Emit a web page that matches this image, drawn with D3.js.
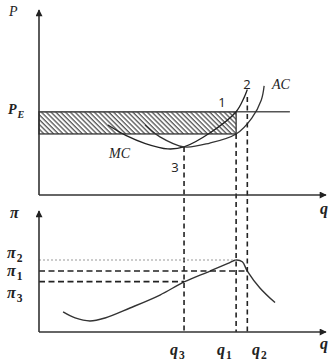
<!DOCTYPE html>
<html>
<head>
<meta charset="utf-8">
<script src="https://cdn.jsdelivr.net/npm/d3@7"></script>
<style>
  body { margin: 0; background: #fff; }
  .lab { font-family: "Liberation Serif", serif; font-style: italic; fill: #222; }
  .num { font-family: "Open Sans", "DejaVu Sans", sans-serif; fill: #222; }
</style>
</head>
<body>
<div id="chart"></div>
<script>
// quantities on the q axis
const qLabels = ["q3", "q1", "q2"];
const qValues = [51.8, 70.4, 74.4];

// price level and average cost at q1 (bounds of hatched area)
const priceE = 45;
const acAtQ1 = 33;
const acMin = 26;

// marginal cost curve [q, P]
const mcCurve = [[24.6, 37.8], [31, 32.2], [38, 27.8], [46, 24.9], [51.8, 26], [61, 33.5], [70.4, 45], [73.2, 52.5], [74.4, 57]];
// average cost curve [q, P]
const acCurve = [[37.9, 37.8], [43.2, 31.4], [51.8, 26], [61, 28.1], [70.4, 33], [76, 41.6], [79.4, 51.4], [80.4, 59]];

// profit levels
const piLabels = ["π2", "π1", "π3"];
const piValues = [60, 50.8, 42];
// profit curve [q, π]
const profitCurve = [[8.6, 16.7], [12.9, 11.7], [18.2, 9.2], [23.6, 11.7], [32.5, 20], [43.2, 30.8], [51.8, 41.7], [61.1, 50.8], [67.5, 57.2], [70.4, 60], [72.6, 58.5], [74.4, 50.8], [78.9, 36.7], [84.3, 24.5]];

const W = 335, H = 360;
const svg = d3.select("#chart").append("svg")
  .attr("width", W).attr("height", H);

// scales
const x = d3.scaleLinear().domain([0, 100]).range([39, 319]);
const yTop = d3.scaleLinear().domain([0, 100]).range([195, 10]);
const yBot = d3.scaleLinear().domain([0, 100]).range([332, 212]);

// arrow marker + hatch pattern
const defs = svg.append("defs");
defs.append("marker")
  .attr("id", "arrow")
  .attr("viewBox", "0 0 10 10")
  .attr("refX", 9).attr("refY", 5)
  .attr("markerWidth", 9).attr("markerHeight", 7)
  .attr("markerUnits", "userSpaceOnUse")
  .attr("orient", "auto")
  .append("path").attr("d", "M0,0L10,5L0,10z").attr("fill", "#222");

defs.append("pattern")
  .attr("id", "hatch")
  .attr("width", 3.4).attr("height", 3.4)
  .attr("patternUnits", "userSpaceOnUse")
  .attr("patternTransform", "rotate(-45)")
  .append("line")
  .attr("x1", 1).attr("y1", 0).attr("x2", 1).attr("y2", 3.4)
  .attr("stroke", "#333").attr("stroke-width", 1.1);

// hatched area between P_E and AC(q1)
svg.append("rect")
  .attr("x", x(0))
  .attr("y", yTop(priceE))
  .attr("width", x(qValues[1]) - x(0))
  .attr("height", yTop(acAtQ1) - yTop(priceE))
  .attr("fill", "url(#hatch)")
  .attr("stroke", "#333").attr("stroke-width", 1.3);

// P_E line
svg.append("line")
  .attr("x1", x(0)).attr("x2", x(89.6))
  .attr("y1", yTop(priceE)).attr("y2", yTop(priceE))
  .attr("stroke", "#555").attr("stroke-width", 1.4);

// curves
const lineTop = d3.line()
  .x(d => x(d[0])).y(d => yTop(d[1]))
  .curve(d3.curveCatmullRom.alpha(0.5));
svg.append("path").datum(mcCurve)
  .attr("d", lineTop).attr("fill", "none")
  .attr("stroke", "#222").attr("stroke-width", 1.3);
svg.append("path").datum(acCurve)
  .attr("d", lineTop).attr("fill", "none")
  .attr("stroke", "#333").attr("stroke-width", 1.3);

const lineBot = d3.line()
  .x(d => x(d[0])).y(d => yBot(d[1]))
  .curve(d3.curveCatmullRom.alpha(0.5));
svg.append("path").datum(profitCurve)
  .attr("d", lineBot).attr("fill", "none")
  .attr("stroke", "#333").attr("stroke-width", 1.4);

// vertical dashed guides from the top curves down to the lower axis
const guideTops = [acMin, acAtQ1, 53];
qValues.forEach(function(q, i) {
  svg.append("line")
    .attr("x1", x(q)).attr("x2", x(q))
    .attr("y1", yTop(guideTops[i])).attr("y2", yBot(0))
    .attr("stroke", "#222").attr("stroke-width", 1.6)
    .attr("stroke-dasharray", "5,3.5");
});

// horizontal guides for profit levels
const piEnds = [qValues[1], qValues[2], qValues[0]];
piValues.forEach(function(p, i) {
  svg.append("line")
    .attr("x1", x(0)).attr("x2", x(piEnds[i]))
    .attr("y1", yBot(p)).attr("y2", yBot(p))
    .attr("stroke", i == 0 ? "#999" : "#222")
    .attr("stroke-width", i == 0 ? 1.2 : 1.6)
    .attr("stroke-dasharray", i == 0 ? "2,2" : "6,3.5");
});

// axes
function axis(x1, y1, x2, y2) {
  svg.append("line")
    .attr("x1", x1).attr("y1", y1).attr("x2", x2).attr("y2", y2)
    .attr("stroke", "#333").attr("stroke-width", 1.6)
    .attr("marker-end", "url(#arrow)");
}
axis(x(0), yTop(0), x(0), 10);
axis(x(0), yTop(0), 326, yTop(0));
axis(x(0), yBot(0), x(0), 211);
axis(x(0), yBot(0), 326, yBot(0));

// text labels
function label(t, px, py, size, cls, anchor) {
  return svg.append("text")
    .attr("class", cls)
    .attr("x", px).attr("y", py)
    .attr("font-size", size)
    .attr("text-anchor", anchor || "start")
    .text(t);
}
function subLabel(main, sub, px, py, size, upright) {
  const t = svg.append("text").attr("class", "lab")
    .attr("x", px).attr("y", py).attr("font-size", size)
    .attr("font-weight", "bold");
  t.append("tspan").text(main);
  t.append("tspan").attr("dx", 1).attr("dy", 4).attr("font-size", size * 0.72)
    .attr("font-style", upright ? "normal" : "italic").text(sub);
}

label("P", 9, 16, 14, "lab");
subLabel("P", "E", 8, 114, 14);
label("MC", 109, 158, 14, "lab");
label("AC", 272, 89, 14, "lab");
label("1", 222, 107, 13, "num", "middle");
label("2", 247, 89, 13, "num", "middle");
label("3", 175, 172, 13, "num", "middle");
label("q", 320, 214, 16, "lab").attr("font-weight", "bold");

label("π", 10, 218, 16, "lab").attr("font-weight", "bold");
const piLabelY = [258, 276, 298];
piLabels.forEach(function(s, i) {
  subLabel(s[0], s[1], 7, piLabelY[i], 16, true);
});
const qLabelX = [170, 217, 252];
qLabels.forEach(function(s, i) {
  subLabel(s[0], s[1], qLabelX[i], 355, 16, true);
});
label("q", 320, 349, 16, "lab").attr("font-weight", "bold");
</script>
</body>
</html>
